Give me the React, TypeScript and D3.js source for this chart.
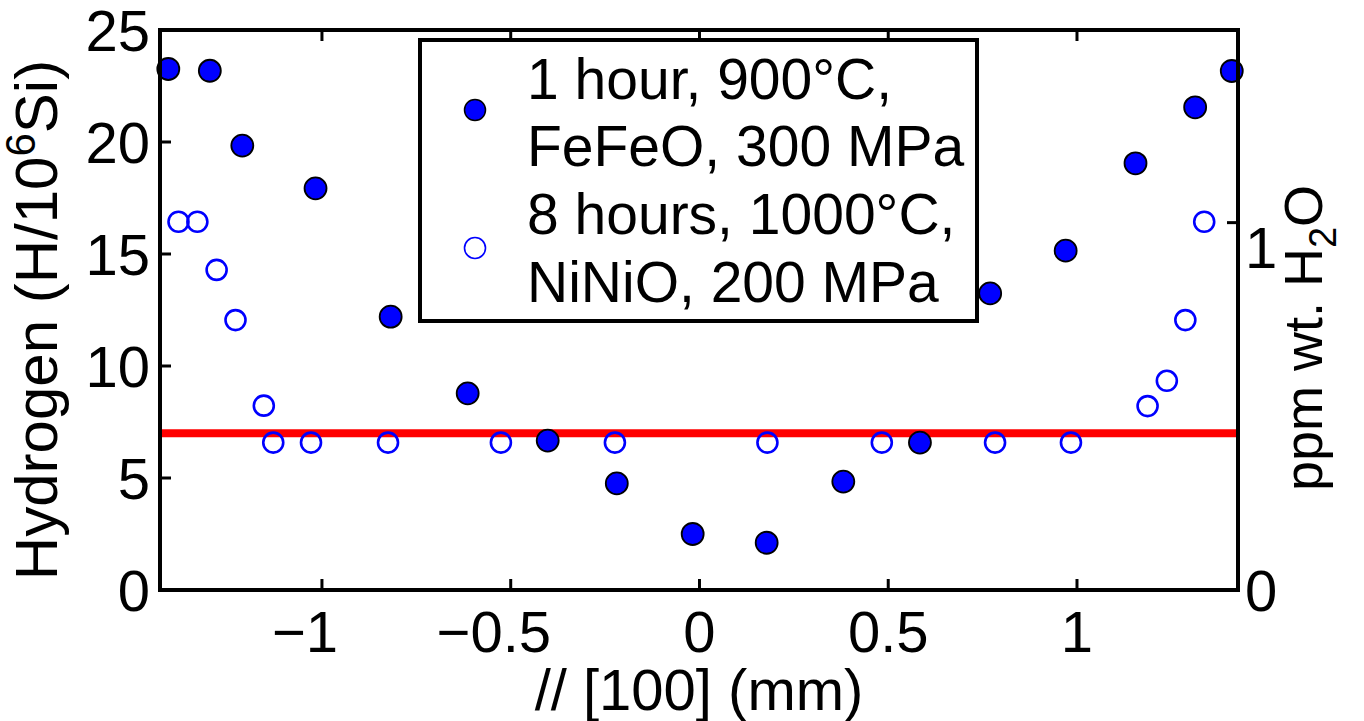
import React from "react";
import * as d3 from "d3";

// Data
const filledX = [-1.407, -1.297, -1.211, -1.017, -0.818, -0.614, -0.402, -0.219, -0.018, 0.178, 0.381, 0.584, 0.770, 0.970, 1.155, 1.313, 1.410];
const filledH = [23.26, 23.18, 19.84, 17.93, 12.20, 8.78, 6.67, 4.76, 2.50, 2.11, 4.84, 6.58, 13.24, 15.15, 19.05, 21.55, 23.17];
const openX = [-1.380, -1.330, -1.279, -1.229, -1.154, -1.129, -1.029, -0.825, -0.526, -0.224, 0.180, 0.483, 0.783, 0.984, 1.187, 1.238, 1.287, 1.337];
const openH = [16.44, 16.44, 14.29, 12.05, 8.23, 6.58, 6.58, 6.58, 6.58, 6.58, 6.58, 6.58, 6.58, 6.58, 8.21, 9.34, 12.05, 16.44];
const refLevel = 7.0;
const xTicks = [-1, -0.5, 0, 0.5, 1];
const yTicks = [0, 5, 10, 15, 20, 25];
const ppmTicks = [0, 1];
const hPerPpm = 16.4;
const legendLines = ["1 hour, 900°C,", "FeFeO, 300 MPa", "8 hours, 1000°C,", "NiNiO, 200 MPa"];

const FONT = "'Liberation Sans', Arial, Helvetica, sans-serif";
const W = 1364, H = 721;
const L = 160, R = 1238, T = 30, B = 590;

const x = d3.scaleLinear().domain([-1.429, 1.4265]).range([L, R]);
const y = d3.scaleLinear().domain([0, 25]).range([B, T]);
const yR = d3.scaleLinear().domain([0, 25 / hPerPpm]).range([B, T]);

const TF = 58; // tick font size
const charW = (s: string) => {
  let w = 0;
  for (const c of s) w += c === "." ? 0.278 : 0.556;
  return w * TF;
};

export default function App() {
  const fmt = (v: number) => String(Math.abs(v));
  return (
    <svg width={W} height={H} style={{ position: "absolute", left: 0, top: 0, background: "#fff" }} fontFamily={FONT}>
      <rect x={0} y={0} width={W} height={H} fill="#fff" />
      {/* reference line */}
      <line x1={L} x2={R} y1={y(refLevel)} y2={y(refLevel)} stroke="#ff0000" strokeWidth={8} />
      {/* open markers */}
      {openX.map((v, i) => (
        <circle key={"o" + i} cx={x(v)} cy={y(openH[i])} r={10} fill="none" stroke="#0000ff" strokeWidth={2.6} />
      ))}
      {/* filled markers */}
      {filledX.map((v, i) => (
        <circle key={"f" + i} cx={x(v)} cy={y(filledH[i])} r={11} fill="#0000ff" stroke="#000" strokeWidth={1.8} />
      ))}
      {/* frame */}
      <path d={`M${L},${T}H${R}V${B}H${L}Z`} fill="none" stroke="#000" strokeWidth={4} />
      {/* x ticks bottom & top */}
      {xTicks.map((t) => (
        <g key={"xt" + t}>
          <line x1={x(t)} x2={x(t)} y1={B} y2={B - 11} stroke="#000" strokeWidth={3} />
          <line x1={x(t)} x2={x(t)} y1={T} y2={T + 11} stroke="#000" strokeWidth={3} />
          <text x={x(t)} y={652} fontSize={TF} textAnchor="middle" fill="#000">{fmt(t)}</text>
          {t < 0 && (
            <text x={x(t) - charW(fmt(t)) / 2} y={652} fontSize={TF} textAnchor="end" fill="#000">−</text>
          )}
        </g>
      ))}
      {/* y ticks left */}
      {yTicks.map((t) => (
        <g key={"yt" + t}>
          <line x1={L} x2={L + 11} y1={y(t)} y2={y(t)} stroke="#000" strokeWidth={3} />
          <text x={150} y={y(t) + 21} fontSize={TF} textAnchor="end" fill="#000">{t}</text>
        </g>
      ))}
      {/* right ticks */}
      {ppmTicks.map((t) => (
        <g key={"rt" + t}>
          <line x1={R} x2={R - 11} y1={yR(t)} y2={yR(t)} stroke="#000" strokeWidth={3} />
          <text x={1245} y={t === 0 ? yR(t) + 21 : yR(t) + 45} fontSize={TF} textAnchor="start" fill="#000">{t}</text>
        </g>
      ))}
      {/* x label */}
      <text x={699} y={710} fontSize={TF} textAnchor="middle" fill="#000">// [100] (mm)</text>
      {/* left y label */}
      <text transform={`translate(57,${(T + B) / 2 + 10}) rotate(-90)`} fontSize={60} textAnchor="middle" fill="#000">
        Hydrogen (H/10<tspan dy={-22} fontSize={42}>6</tspan><tspan dy={22}>Si)</tspan>
      </text>
      {/* right y label */}
      <text transform={`translate(1322,338) rotate(-90)`} fontSize={54} textAnchor="middle" fill="#000">
        ppm wt. H<tspan dy={14} fontSize={38}>2</tspan><tspan dy={-14}>O</tspan>
      </text>
      {/* legend */}
      <rect x={420} y={40} width={557} height={281} fill="#fff" stroke="#000" strokeWidth={4} />
      <circle cx={475} cy={110} r={10.5} fill="#0000ff" stroke="#000" strokeWidth={1.5} />
      <circle cx={475} cy={248} r={10.5} fill="none" stroke="#0000ff" strokeWidth={1.6} />
      {legendLines.map((s, i) => (
        <text key={"lg" + i} x={527} y={[99, 166, 234, 302][i]} fontSize={57} fill="#000">{s}</text>
      ))}
    </svg>
  );
}
